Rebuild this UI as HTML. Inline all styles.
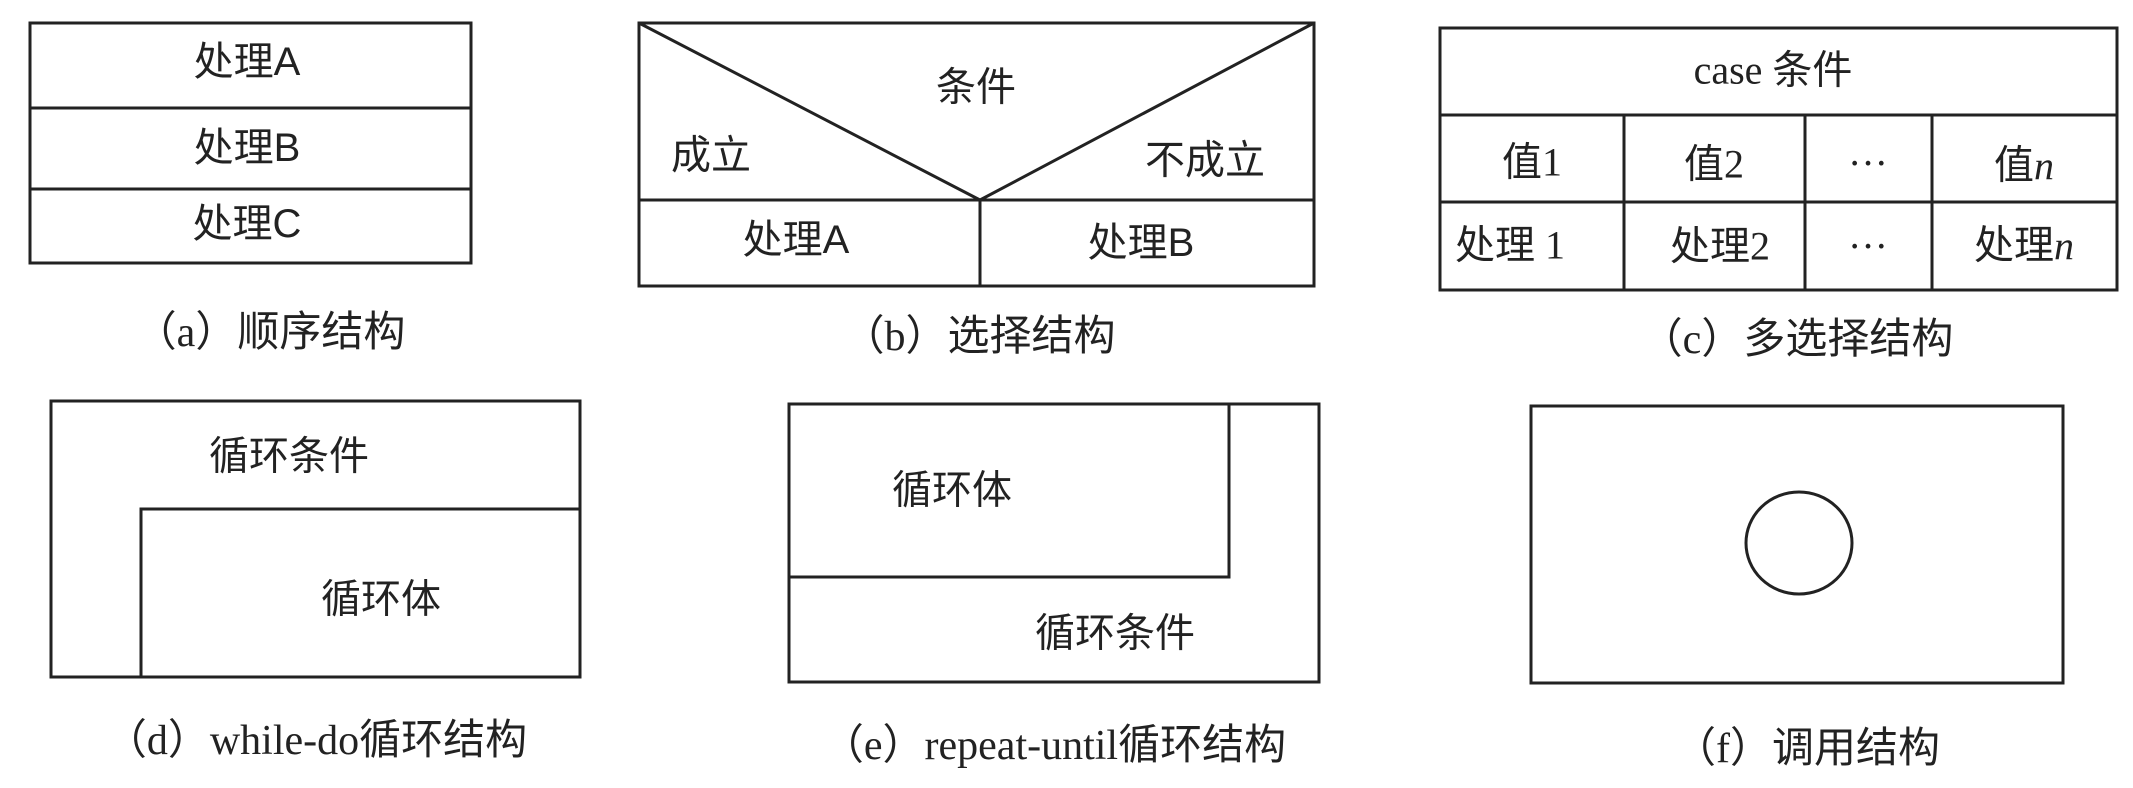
<!DOCTYPE html>
<html><head><meta charset="utf-8"><style>
html,body{margin:0;padding:0;background:#fff;}
svg{display:block;}
text{font-family:"Liberation Serif","Noto Sans CJK SC",serif;fill:#222;text-anchor:middle;dominant-baseline:central;}
.l{font-size:40px;}
.s{font-family:"Liberation Sans","Noto Sans CJK SC",sans-serif;}
.c{font-size:42px;}
</style></head><body>
<svg width="2133" height="788" viewBox="0 0 2133 788" xmlns="http://www.w3.org/2000/svg">
<g fill="none" stroke="#222" stroke-width="3">
<rect x="30" y="23" width="441" height="240"/>
<line x1="30" y1="108" x2="471" y2="108"/>
<line x1="30" y1="189" x2="471" y2="189"/>
<rect x="639" y="23" width="675" height="263"/>
<line x1="639" y1="200" x2="1314" y2="200"/>
<polyline points="639,23 980,200 1314,23"/>
<line x1="980" y1="200" x2="980" y2="286"/>
<rect x="1440" y="28" width="677" height="262"/>
<line x1="1440" y1="115" x2="2117" y2="115"/>
<line x1="1440" y1="202" x2="2117" y2="202"/>
<line x1="1624" y1="115" x2="1624" y2="290"/>
<line x1="1805" y1="115" x2="1805" y2="290"/>
<line x1="1932" y1="115" x2="1932" y2="290"/>
<rect x="51" y="401" width="529" height="276"/>
<polyline points="141,677 141,509 580,509"/>
<rect x="789" y="404" width="530" height="278"/>
<polyline points="789,577 1229,577 1229,404"/>
<rect x="1531" y="406" width="532" height="277"/>
<ellipse cx="1799" cy="543" rx="53" ry="51"/>
</g>
<text class="l s" x="247" y="62">处理A</text>
<text class="l s" x="247" y="148">处理B</text>
<text class="l s" x="247" y="224">处理C</text>
<text class="c" x="270" y="333">（a）顺序结构</text>

<text class="l" x="976" y="87">条件</text>
<text class="l" x="711" y="155">成立</text>
<text class="l" x="1205" y="160">不成立</text>
<text class="l s" x="796" y="240">处理A</text>
<text class="l s" x="1141" y="243">处理B</text>
<text class="c" x="979" y="337">（b）选择结构</text>

<text class="l" x="1773" y="70">case 条件</text>
<text class="l" x="1532" y="162">值1</text>
<text class="l" x="1714" y="164">值2</text>
<text class="l" x="1868" y="163">···</text>
<text class="l" x="2024" y="165">值<tspan font-style="italic">n</tspan></text>
<text class="l" x="1510" y="245">处理 1</text>
<text class="l" x="1720" y="246">处理2</text>
<text class="l" x="1868" y="246">···</text>
<text class="l" x="2024" y="245">处理<tspan font-style="italic">n</tspan></text>
<text class="c" x="1797" y="340">（c）多选择结构</text>

<text class="l" x="289" y="456">循环条件</text>
<text class="l" x="381" y="599">循环体</text>
<text class="c" x="316" y="741">（d）while-do循环结构</text>

<text class="l" x="952" y="490">循环体</text>
<text class="l" x="1115" y="633">循环条件</text>
<text class="c" x="1054" y="746">（e）repeat-until循环结构</text>

<text class="c" x="1807" y="749">（f）调用结构</text>
</svg>
</body></html>
